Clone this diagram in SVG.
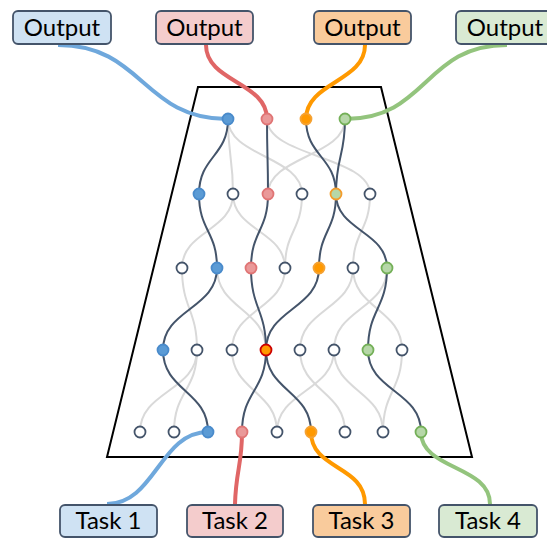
<svg xmlns="http://www.w3.org/2000/svg" width="547" height="538" viewBox="0 0 547 538">
  <style>
    .frame { fill: none; stroke: #000; stroke-width: 2; stroke-linejoin: miter; }
    .lt { fill: none; stroke: #d9d9d9; stroke-width: 2; }
    .dk { fill: none; stroke: #44546a; stroke-width: 2; }
    .wire { fill: none; stroke-width: 4; stroke-linecap: butt; }
    .w-blue { stroke: #6fa8dc; }
    .w-pink { stroke: #e06666; }
    .w-orange { stroke: #ff9900; }
    .w-green { stroke: #93c47d; }
    .box { stroke: #44546a; stroke-width: 1.8; }
    .b-blue { fill: #cfe2f3; }
    .b-pink { fill: #f4cccc; }
    .b-orange { fill: #f9cb9c; }
    .b-green { fill: #d9ead3; }
    .lbl { font-family: Lato, "Liberation Sans", sans-serif; font-size: 24px; fill: #000; text-anchor: middle; }
    .n { stroke-width: 1.8; }
    .n-open { fill: #fff; stroke: #44546a; }
    .n-blue { fill: #5b9bd5; stroke: #4a8bcb; }
    .n-pink { fill: #ea9999; stroke: #e07575; }
    .n-orange { fill: #ff9900; stroke: #f5a233; }
    .n-green { fill: #b6d7a8; stroke: #74b058; }
    .n-green-o { fill: #b6d7a8; stroke: #f39c2b; }
    .n-orange-r { fill: #ff9900; stroke: #cc0000; }
  </style>

  <!-- shared network body -->
  <polygon class="frame" points="198,87 381,87 472,457 107,457"/>

  <g id="connectors">
    <!-- inactive links -->
    <g id="links-light">
      <path class="lt" d="M228,119 C228,156.5 233,156.5 233,194"/>
      <path class="lt" d="M228,119 C228,156.5 302,156.5 302,194"/>
      <path class="lt" d="M267,119 C267,156.5 370,156.5 370,194"/>
      <path class="lt" d="M345,119 C345,156.5 268,156.5 268,194"/>

      <path class="lt" d="M233,194 C233,231 182,231 182,268"/>
      <path class="lt" d="M233,194 C233,231 285,231 285,268"/>
      <path class="lt" d="M302,194 C302,231 285,231 285,268"/>
      <path class="lt" d="M370,194 C370,231 353,231 353,268"/>

      <path class="lt" d="M182,268 C182,309 197,309 197,350"/>
      <path class="lt" d="M217,268 C217,309 266,309 266,350"/>
      <path class="lt" d="M285,268 C285,309 232,309 232,350"/>
      <path class="lt" d="M353,268 C353,309 300,309 300,350"/>
      <path class="lt" d="M353,268 C353,309 402,309 402,350"/>
      <path class="lt" d="M387,268 C387,309 334,309 334,350"/>

      <path class="lt" d="M197,350 C197,391 140,391 140,432"/>
      <path class="lt" d="M197,350 C197,391 174,391 174,432"/>
      <path class="lt" d="M232,350 C232,391 277,391 277,432"/>
      <path class="lt" d="M300,350 C300,391 345,391 345,432"/>
      <path class="lt" d="M334,350 C334,391 277,391 277,432"/>
      <path class="lt" d="M334,350 C334,391 383,391 383,432"/>
      <path class="lt" d="M402,350 C402,391 383,391 383,432"/>
    </g>

    <!-- active links -->
    <g id="links-dark">
      <path class="dk" d="M228,119 C228,156.5 199,156.5 199,194"/>
      <path class="dk" d="M267,119 C267,156.5 268,156.5 268,194"/>
      <path class="dk" d="M306,119 C306,156.5 336,156.5 336,194"/>
      <path class="dk" d="M345,119 C345,156.5 336,156.5 336,194"/>

      <path class="dk" d="M199,194 C199,231 217,231 217,268"/>
      <path class="dk" d="M268,194 C268,231 251,231 251,268"/>
      <path class="dk" d="M336,194 C336,231 319,231 319,268"/>
      <path class="dk" d="M336,194 C336,231 387,231 387,268"/>

      <path class="dk" d="M217,268 C217,309 163,309 163,350"/>
      <path class="dk" d="M251,268 C251,309 266,309 266,350"/>
      <path class="dk" d="M319,268 C319,309 266,309 266,350"/>
      <path class="dk" d="M387,268 C387,309 368,309 368,350"/>

      <path class="dk" d="M163,350 C163,391 208,391 208,432"/>
      <path class="dk" d="M266,350 C266,391 242,391 242,432"/>
      <path class="dk" d="M266,350 C266,391 311,391 311,432"/>
      <path class="dk" d="M368,350 C368,391 421,391 421,432"/>
    </g>

    <!-- task inputs and outputs -->
    <g id="wires">
      <path class="wire w-blue" d="M58,45 C143,45 143,119 227,119"/>
      <path class="wire w-pink" d="M206,45 C206,82 267,82 267,119"/>
      <path class="wire w-orange" d="M365,45 C365,82 306,82 306,119"/>
      <path class="wire w-green" d="M507,45 C424,45 428,119 345,119"/>

      <path class="wire w-blue" d="M107,504 C155,504 160,432 208,432"/>
      <path class="wire w-pink" d="M235,504 C236,470 242,465 242,432"/>
      <path class="wire w-orange" d="M365,504 C365,465 311,470 311,432"/>
      <path class="wire w-green" d="M490,504 C490,465 421,470 421,432"/>
    </g>
  </g>

  <!-- layer 1 -->
  <g id="layer1">
    <circle class="n n-blue" cx="228" cy="119" r="5.5"/>
    <circle class="n n-pink" cx="267" cy="119" r="5.5"/>
    <circle class="n n-orange" cx="306" cy="119" r="5.5"/>
    <circle class="n n-green" cx="345" cy="119" r="5.5"/>
  </g>
  <!-- layer 2 -->
  <g id="layer2">
    <circle class="n n-blue" cx="199" cy="194" r="5.5"/>
    <circle class="n n-open" cx="233" cy="194" r="5.5"/>
    <circle class="n n-pink" cx="268" cy="194" r="5.5"/>
    <circle class="n n-open" cx="302" cy="194" r="5.5"/>
    <circle class="n n-green-o" cx="336" cy="194" r="5.5"/>
    <circle class="n n-open" cx="370" cy="194" r="5.5"/>
  </g>
  <!-- layer 3 -->
  <g id="layer3">
    <circle class="n n-open" cx="182" cy="268" r="5.5"/>
    <circle class="n n-blue" cx="217" cy="268" r="5.5"/>
    <circle class="n n-pink" cx="251" cy="268" r="5.5"/>
    <circle class="n n-open" cx="285" cy="268" r="5.5"/>
    <circle class="n n-orange" cx="319" cy="268" r="5.5"/>
    <circle class="n n-open" cx="353" cy="268" r="5.5"/>
    <circle class="n n-green" cx="387" cy="268" r="5.5"/>
  </g>
  <!-- layer 4 -->
  <g id="layer4">
    <circle class="n n-blue" cx="163" cy="350" r="5.5"/>
    <circle class="n n-open" cx="197" cy="350" r="5.5"/>
    <circle class="n n-open" cx="232" cy="350" r="5.5"/>
    <circle class="n n-orange-r" cx="266" cy="350" r="5.5"/>
    <circle class="n n-open" cx="300" cy="350" r="5.5"/>
    <circle class="n n-open" cx="334" cy="350" r="5.5"/>
    <circle class="n n-green" cx="368" cy="350" r="5.5"/>
    <circle class="n n-open" cx="402" cy="350" r="5.5"/>
  </g>
  <!-- layer 5 -->
  <g id="layer5">
    <circle class="n n-open" cx="140" cy="432" r="5.5"/>
    <circle class="n n-open" cx="174" cy="432" r="5.5"/>
    <circle class="n n-blue" cx="208" cy="432" r="5.5"/>
    <circle class="n n-pink" cx="242" cy="432" r="5.5"/>
    <circle class="n n-open" cx="277" cy="432" r="5.5"/>
    <circle class="n n-orange" cx="311" cy="432" r="5.5"/>
    <circle class="n n-open" cx="345" cy="432" r="5.5"/>
    <circle class="n n-open" cx="383" cy="432" r="5.5"/>
    <circle class="n n-green" cx="421" cy="432" r="5.5"/>
  </g>

  <!-- output heads -->
  <g id="output1"><rect class="box b-blue" x="13" y="11" width="98" height="33" rx="5"/><text class="lbl" x="62" y="36">Output</text></g>
  <g id="output2"><rect class="box b-pink" x="156" y="11" width="97" height="33" rx="5"/><text class="lbl" x="204.5" y="36">Output</text></g>
  <g id="output3"><rect class="box b-orange" x="314" y="11" width="97" height="33" rx="5"/><text class="lbl" x="362.5" y="36">Output</text></g>
  <g id="output4"><rect class="box b-green" x="456" y="11" width="98" height="33" rx="5"/><text class="lbl" x="505" y="36">Output</text></g>

  <!-- task inputs -->
  <g id="task1"><rect class="box b-blue" x="60" y="505" width="97" height="32" rx="5"/><text class="lbl" x="108.5" y="529">Task 1</text></g>
  <g id="task2"><rect class="box b-pink" x="187" y="505" width="96" height="32" rx="5"/><text class="lbl" x="235" y="529">Task 2</text></g>
  <g id="task3"><rect class="box b-orange" x="313" y="505" width="97" height="32" rx="5"/><text class="lbl" x="361.5" y="529">Task 3</text></g>
  <g id="task4"><rect class="box b-green" x="439" y="505" width="98" height="32" rx="5"/><text class="lbl" x="488" y="529">Task 4</text></g>
</svg>
